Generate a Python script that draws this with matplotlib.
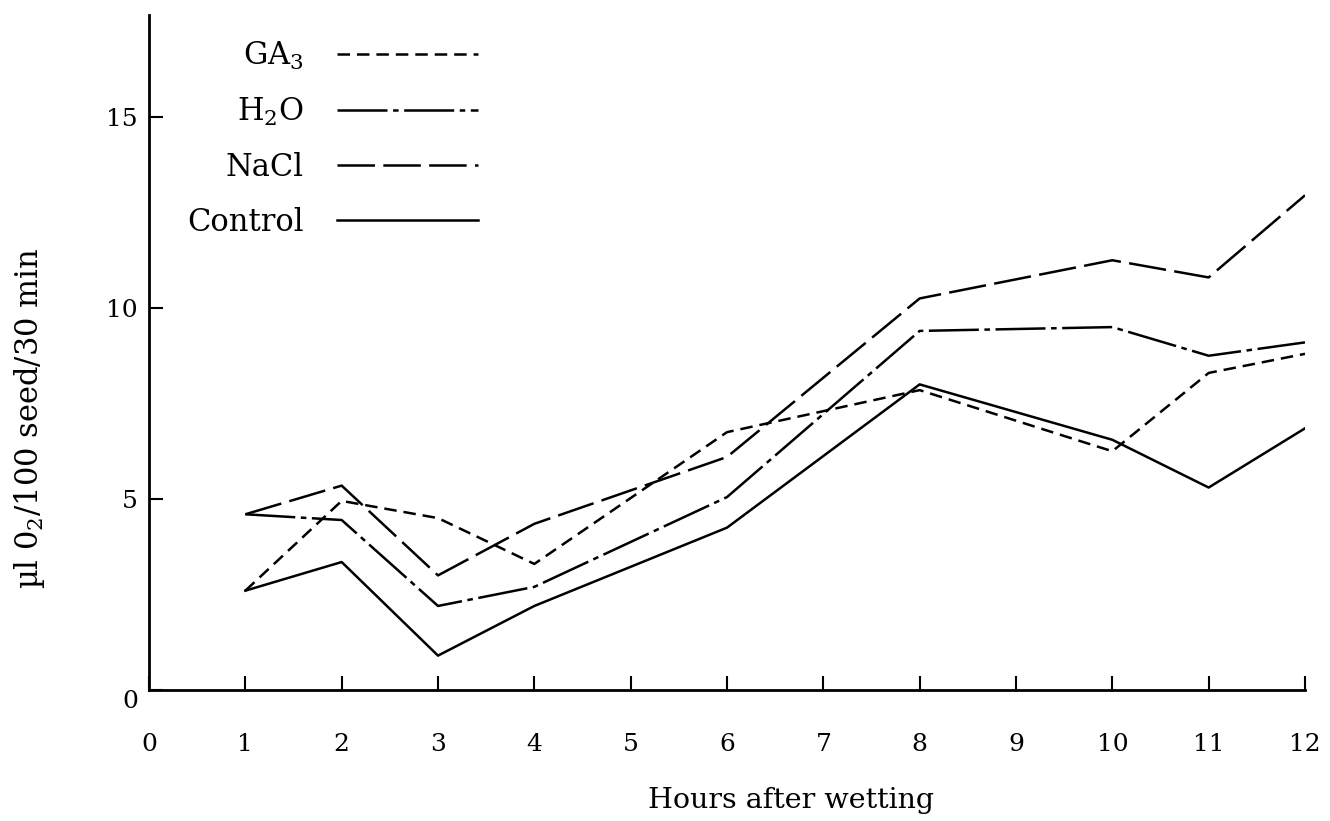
import matplotlib
matplotlib.use("Agg")
import matplotlib.pyplot as plt

# Oxygen uptake after wetting
hours = [1, 2, 3, 4, 6, 8, 10, 11, 12]
ga3 = [2.6, 4.95, 4.5, 3.3, 6.75, 7.85, 6.25, 8.3, 8.8]
h2o = [4.6, 4.45, 2.2, 2.7, 5.05, 9.4, 9.5, 8.75, 9.1]
nacl = [4.6, 5.35, 3.0, 4.35, 6.1, 10.25, 11.25, 10.8, 12.95]
control = [2.6, 3.35, 0.9, 2.2, 4.25, 8.0, 6.55, 5.3, 6.85]

series = [
    ("GA$_3$", ga3, (0, (9, 5))),
    ("H$_2$O", h2o, (0, (36, 4, 4, 4))),
    ("NaCl", nacl, (0, (27, 6))),
    ("Control", control, "-"),
]

x_ticks = list(range(0, 13))
y_ticks = [0, 5, 10, 15]

plt.rcParams["font.family"] = ["DejaVu Serif"]
plt.rcParams["mathtext.fontset"] = "dejavuserif"
plt.rcParams["lines.scale_dashes"] = False

fig = plt.figure(figsize=(13.3, 8.21), dpi=100)
ax = fig.add_axes([149 / 1330, 1 - 690 / 821, (1305 - 149) / 1330, (690 - 15) / 821])

for label, vals, ls in series:
    ax.plot(hours, vals, color="black", linestyle=ls, linewidth=1.8, label=label)

ax.set_xlim(0, 12)
ax.set_ylim(0, 17.67)
ax.set_xticks(x_ticks)
ax.set_yticks(y_ticks)
ax.spines["top"].set_visible(False)
ax.spines["right"].set_visible(False)
ax.spines["left"].set_linewidth(2)
ax.spines["bottom"].set_linewidth(2)
ax.tick_params(axis="both", direction="in", length=10, width=1.5, labelsize=18)
ax.tick_params(axis="x", pad=31)
ax.tick_params(axis="y", pad=8)
ax.get_yticklabels()[0].set_verticalalignment("top")

# legend: labels to the left of the line samples, right-aligned
ax.legend(
    loc="upper right",
    bbox_to_anchor=(478 / 1330, 1 - 40 / 821),
    bbox_transform=fig.transFigure,
    frameon=False,
    markerfirst=False,
    handlelength=4.6,
    handletextpad=1.1,
    labelspacing=0.78,
    borderpad=0,
    borderaxespad=0,
    fontsize=22,
)

fig.text(30 / 1330, 1 - 418 / 821, "µl 0$_2$/100 seed/30 min", rotation=90,
         ha="center", va="center", fontsize=22)
fig.text(791 / 1330, 1 - 800 / 821, "Hours after wetting", ha="center", va="center",
         fontsize=20.5)

fig.savefig("out.png", dpi=100)
